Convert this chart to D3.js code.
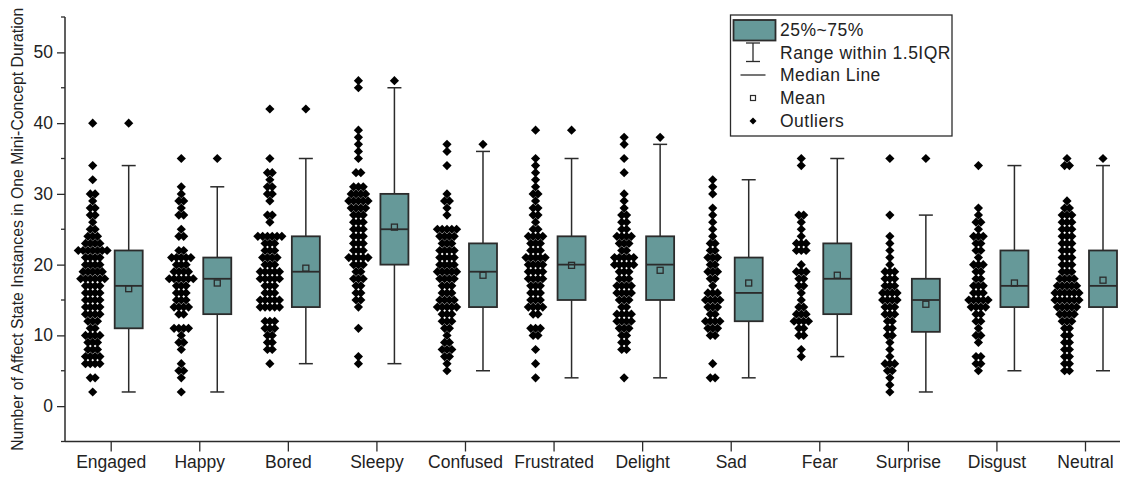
<!DOCTYPE html>
<html>
<head>
<meta charset="utf-8">
<script src="https://cdn.jsdelivr.net/npm/d3@7"></script>
<style>
  html, body { margin: 0; padding: 0; background: #fff; }
  svg { display: block; font-family: "Liberation Sans", Arial, sans-serif; }
</style>
</head>
<body>
<svg id="chart" width="1127" height="478"></svg>
<script>
// Affect states on the x axis
const categories = ["Engaged", "Happy", "Bored", "Sleepy", "Confused", "Frustrated",
                    "Delight", "Sad", "Fear", "Surprise", "Disgust", "Neutral"];

// Observations per state as [value, number of instances with that value]
const engaged = [[40,1],[34,1],[32,1],[30,2],[29,1],[28,2],[27,2],[26,1],[25,2],[24,3],[23,4],[22,7],[21,4],[20,4],[19,5],[18,6],[17,4],[16,4],[15,4],[14,4],[13,4],[12,3],[11,2],[10,4],[9,3],[8,3],[7,4],[6,4],[4,2],[2,1]];
const happy = [[35,1],[31,1],[30,1],[29,2],[28,1],[27,2],[25,1],[24,2],[22,2],[21,5],[20,3],[19,4],[18,6],[17,3],[16,3],[15,3],[14,4],[13,2],[11,4],[10,1],[9,2],[8,1],[6,1],[5,2],[4,1],[2,1]];
const bored = [[42,1],[35,1],[33,2],[32,1],[31,2],[30,2],[29,1],[27,2],[26,1],[24,6],[23,3],[22,3],[21,4],[20,3],[19,5],[18,5],[17,3],[16,3],[15,5],[14,5],[12,3],[11,3],[10,2],[9,2],[8,2],[6,1]];
const sleepy = [[46,1],[45,1],[39,1],[38,1],[37,1],[36,1],[35,1],[33,2],[31,3],[30,4],[29,5],[28,4],[27,3],[26,3],[25,3],[24,3],[23,3],[22,3],[21,5],[20,3],[19,2],[18,3],[17,2],[16,2],[15,2],[14,1],[11,1],[7,1],[6,1]];
const confused = [[37,1],[36,1],[34,1],[30,1],[29,2],[28,1],[27,1],[25,5],[24,4],[23,3],[22,4],[21,4],[20,4],[19,5],[18,4],[17,3],[16,3],[15,4],[14,5],[13,3],[12,3],[11,2],[10,1],[9,2],[8,3],[7,2],[6,1],[5,1]];
const frustrated = [[39,1],[35,1],[34,1],[33,1],[32,1],[31,1],[30,2],[29,1],[28,2],[27,2],[26,1],[25,2],[24,4],[23,3],[22,3],[21,5],[20,4],[19,4],[18,4],[17,3],[16,3],[15,3],[14,4],[13,2],[11,3],[10,2],[8,1],[6,1],[4,1]];
const delight = [[38,1],[37,1],[35,1],[33,1],[30,1],[29,1],[28,1],[27,2],[26,2],[25,2],[24,4],[23,3],[22,2],[21,5],[20,5],[19,3],[18,3],[17,4],[16,4],[15,3],[14,2],[13,4],[12,4],[11,3],[10,2],[9,2],[8,2],[4,1]];
const sad = [[32,1],[31,1],[30,1],[28,1],[27,1],[26,1],[25,1],[24,1],[23,2],[22,2],[21,3],[20,2],[19,3],[18,2],[17,1],[16,3],[15,4],[14,3],[13,2],[12,4],[11,3],[10,2],[6,1],[4,2]];
const fear = [[35,1],[34,1],[27,2],[26,1],[25,1],[24,1],[23,3],[22,3],[20,1],[19,3],[18,2],[17,2],[16,1],[15,1],[14,2],[13,3],[12,4],[11,2],[10,2],[8,1],[7,1]];
const surprise = [[35,1],[27,1],[24,1],[23,1],[22,1],[21,1],[20,1],[19,3],[18,3],[17,3],[16,4],[15,4],[14,3],[13,3],[12,2],[11,2],[10,2],[9,1],[8,1],[7,1],[6,3],[5,2],[4,1],[3,1],[2,1]];
const disgust = [[34,1],[28,1],[27,1],[26,2],[25,1],[24,3],[23,2],[22,2],[21,1],[20,3],[19,2],[18,2],[17,3],[16,3],[15,5],[14,4],[13,2],[12,2],[11,1],[10,2],[9,1],[7,2],[6,2],[5,1]];
const neutral = [[35,1],[34,2],[29,1],[28,2],[27,3],[26,3],[25,3],[24,3],[23,3],[22,3],[21,3],[20,3],[19,3],[18,4],[17,5],[16,6],[15,6],[14,5],[13,4],[12,3],[11,2],[10,2],[9,2],[8,2],[7,2],[6,2],[5,2]];

const observations = [engaged, happy, bored, sleepy, confused, frustrated,
                      delight, sad, fear, surprise, disgust, neutral];

// Box statistics per state
const q1          = [11, 13, 14, 20, 14, 15, 15, 12, 13, 10.5, 14, 14];
const median      = [17, 18, 19, 25, 19, 20, 20, 16, 18, 15, 17, 17];
const q3          = [22, 21, 24, 30, 23, 24, 24, 21, 23, 18, 22, 22];
const whiskerLow  = [2, 2, 6, 6, 5, 4, 4, 4, 7, 2, 5, 5];
const whiskerHigh = [34, 31, 35, 45, 36, 35, 37, 32, 35, 27, 34, 34];
const means       = [16.6, 17.4, 19.5, 25.3, 18.5, 19.9, 19.2, 17.4, 18.5, 14.4, 17.4, 17.8];

const yTicks = [0, 10, 20, 30, 40, 50];
const legendLabels = ["25%~75%", "Range within 1.5IQR", "Median Line", "Mean", "Outliers"];

const yTitle = "Number of Affect State Instances in One Mini-Concept Duration";

// ---- layout ----
const svg = d3.select("#chart");
const axisLeftX = 65, axisRightX = 1120, axisBottomY = 441.5, axisTopY = 17;
const boxFill = "#669999", ink = "#2b2b2b", textInk = "#222";

const x = d3.scalePoint().domain(categories).range([110.7, 1085]);
const y = d3.scaleLinear().domain([-5, 55]).range([axisBottomY, axisTopY]);

const dotOffset = -18, boxOffset = 18, boxWidth = 28, capWidth = 14, dotSpacing = 4.8;

const diamond = r => `M0,${-r}L${r},0L0,${r}L${-r},0Z`;

// ---- axes ----
const yAxis = d3.axisLeft(y).tickValues(yTicks).tickSize(8).tickPadding(4);
const gy = svg.append("g").attr("transform", `translate(${axisLeftX},0)`).call(yAxis);
gy.select(".domain").remove();
gy.selectAll(".tick line").attr("stroke", ink).attr("stroke-width", 1.3);
gy.selectAll(".tick text").attr("fill", textInk).attr("font-size", 17.5)
  .attr("font-family", "Liberation Sans, Arial, sans-serif");
// minor ticks
const minor = d3.range(-5, 56, 5).filter(v => v % 10 !== 0);
svg.append("g").selectAll("line").data(minor).join("line")
  .attr("x1", axisLeftX - 4).attr("x2", axisLeftX)
  .attr("y1", d => y(d)).attr("y2", d => y(d))
  .attr("stroke", ink).attr("stroke-width", 1.3);

svg.append("line").attr("x1", axisLeftX).attr("x2", axisLeftX)
  .attr("y1", axisTopY).attr("y2", axisBottomY)
  .attr("stroke", ink).attr("stroke-width", 1.5);

const xAxis = d3.axisBottom(x).tickSize(10).tickPadding(4);
const gx = svg.append("g").attr("transform", `translate(0,${axisBottomY})`).call(xAxis);
gx.select(".domain").remove();
gx.selectAll(".tick line").attr("stroke", ink).attr("stroke-width", 1.3);
gx.selectAll(".tick text").attr("fill", textInk).attr("font-size", 17.5)
  .attr("font-family", "Liberation Sans, Arial, sans-serif");
svg.append("line").attr("x1", axisLeftX).attr("x2", axisRightX)
  .attr("y1", axisBottomY).attr("y2", axisBottomY)
  .attr("stroke", ink).attr("stroke-width", 1.5);

svg.append("text")
  .attr("transform", `translate(23,${(axisTopY + axisBottomY) / 2 + 0}) rotate(-90)`)
  .attr("text-anchor", "middle").attr("font-size", 15.8).attr("fill", textInk)
  .text(yTitle);

// ---- per-state groups ----
const groups = svg.append("g").selectAll("g").data(categories).join("g")
  .attr("transform", d => `translate(${x(d)},0)`);

// individual observations, spread horizontally per value
groups.each(function (cat, i) {
  const pts = [];
  observations[i].forEach(([v, n]) => {
    for (let k = 0; k < n; k++) pts.push({ v, dx: (k - (n - 1) / 2) * dotSpacing });
  });
  d3.select(this).append("g").selectAll("path").data(pts).join("path")
    .attr("d", diamond(4.6))
    .attr("transform", p => `translate(${dotOffset + p.dx},${y(p.v)})`)
    .attr("fill", "#000");
});

// whiskers
groups.append("line")
  .attr("x1", boxOffset).attr("x2", boxOffset)
  .attr("y1", (d, i) => y(whiskerLow[i])).attr("y2", (d, i) => y(whiskerHigh[i]))
  .attr("stroke", ink).attr("stroke-width", 1.5);
["low", "high"].forEach(end => {
  groups.append("line")
    .attr("x1", boxOffset - capWidth / 2).attr("x2", boxOffset + capWidth / 2)
    .attr("y1", (d, i) => y(end === "low" ? whiskerLow[i] : whiskerHigh[i]))
    .attr("y2", (d, i) => y(end === "low" ? whiskerLow[i] : whiskerHigh[i]))
    .attr("stroke", ink).attr("stroke-width", 1.5);
});

// boxes
groups.append("rect")
  .attr("x", boxOffset - boxWidth / 2).attr("width", boxWidth)
  .attr("y", (d, i) => y(q3[i])).attr("height", (d, i) => y(q1[i]) - y(q3[i]))
  .attr("fill", boxFill).attr("stroke", ink).attr("stroke-width", 1.8);

// medians
groups.append("line")
  .attr("x1", boxOffset - boxWidth / 2).attr("x2", boxOffset + boxWidth / 2)
  .attr("y1", (d, i) => y(median[i])).attr("y2", (d, i) => y(median[i]))
  .attr("stroke", ink).attr("stroke-width", 1.8);

// means
groups.append("rect")
  .attr("x", boxOffset - 3).attr("width", 6).attr("height", 6)
  .attr("y", (d, i) => y(means[i]) - 3)
  .attr("fill", "none").attr("stroke", ink).attr("stroke-width", 1.3);

// outliers beyond the whiskers
groups.each(function (cat, i) {
  const out = observations[i].map(o => o[0])
    .filter(v => v > whiskerHigh[i] || v < whiskerLow[i]);
  d3.select(this).append("g").selectAll("path").data(out).join("path")
    .attr("d", diamond(4.6))
    .attr("transform", v => `translate(${boxOffset},${y(v)})`)
    .attr("fill", "#000");
});

// ---- legend ----
const lg = svg.append("g").attr("transform", "translate(730.5,15)");
lg.append("rect").attr("width", 221.5).attr("height", 121)
  .attr("fill", "#fff").attr("stroke", ink).attr("stroke-width", 1.3);
const rowY = [15, 37.5, 60, 83, 106];
const symX = 22.5;
lg.append("rect").attr("x", 3).attr("y", 5).attr("width", 42).attr("height", 20.5)
  .attr("fill", boxFill).attr("stroke", ink).attr("stroke-width", 1.8);
lg.append("line").attr("x1", symX).attr("x2", symX).attr("y1", 28).attr("y2", 46.5)
  .attr("stroke", ink).attr("stroke-width", 1.3);
[28, 46.5].forEach(yy => lg.append("line").attr("x1", symX - 7).attr("x2", symX + 7)
  .attr("y1", yy).attr("y2", yy).attr("stroke", ink).attr("stroke-width", 1.3));
lg.append("line").attr("x1", 10).attr("x2", 35).attr("y1", rowY[2]).attr("y2", rowY[2])
  .attr("stroke", ink).attr("stroke-width", 1.3);
lg.append("rect").attr("x", symX - 2.5).attr("y", rowY[3] - 2.5).attr("width", 5).attr("height", 5)
  .attr("fill", "#fff").attr("stroke", ink).attr("stroke-width", 1.2);
lg.append("path").attr("d", diamond(3.5)).attr("transform", `translate(${symX},${rowY[4]})`)
  .attr("fill", "#000");
lg.selectAll("text.lbl").data(legendLabels).join("text").attr("class", "lbl")
  .attr("x", 49.5).attr("y", (d, i) => rowY[i]).attr("dy", "0.36em")
  .attr("font-size", 17.5).attr("letter-spacing", 0.5).attr("fill", textInk)
  .text(d => d);
</script>
</body>
</html>
